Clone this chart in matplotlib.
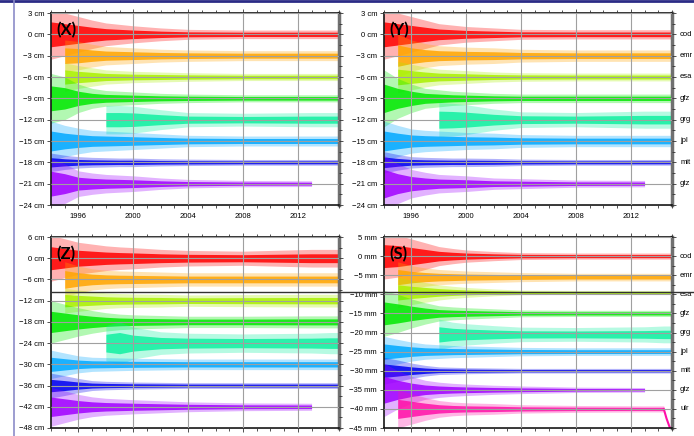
import numpy as np
import matplotlib
matplotlib.use('Agg')
import matplotlib.pyplot as plt
from matplotlib.lines import Line2D
from matplotlib.ticker import MultipleLocator, FuncFormatter

plt.rcParams['font.family'] = ['Liberation Sans', 'DejaVu Sans']

n = np.nan
knots = [1994, 1995, 1996, 1997, 1998, 1999, 2000, 2002, 2004, 2008, 2013, 2014.4, 2015]

centres = ['cod', 'emr', 'esa', 'gfz', 'grg', 'jpl', 'mit', 'gtz']
centres_s = centres + ['ulr']
colours = ['#ff0000', '#ffa500', '#aaf000', '#00e800', '#10f0a0',
           '#00a8ff', '#0000f0', '#a000ff', '#ff10a8']

# (X) cm, offsets and outer half-width of each band
x_offsets = [0, -3, -6, -9, -12, -15, -18, -21]
x_width = [
    [3.5, 3.0, 2.5, 2.0, 1.6, 1.4, 1.2, 0.9, 0.7, 0.6, 0.6, 0.6, 0.6],
    [n, 2.2, 2.0, 1.6, 1.3, 1.2, 1.1, 0.9, 0.8, 0.7, 0.7, 0.7, 0.7],
    [n, 2.0, 1.6, 1.3, 1.0, 0.9, 0.8, 0.7, 0.6, 0.5, 0.5, 0.5, 0.5],
    [3.5, 3.0, 2.0, 1.4, 1.1, 1.0, 0.9, 0.7, 0.6, 0.5, 0.5, 0.5, 0.5],
    [n, n, n, n, 2.0, 2.0, 1.9, 1.4, 1.0, 0.9, 1.0, 1.0, 1.0],
    [2.8, 2.2, 1.8, 1.5, 1.4, 1.3, 1.2, 1.0, 0.8, 0.7, 0.7, 0.7, 0.7],
    [1.3, 1.0, 0.8, 0.7, 0.65, 0.6, 0.6, 0.5, 0.45, 0.4, 0.4, 0.4, 0.4],
    [3.5, 2.8, 1.8, 1.5, 1.3, 1.2, 1.1, 0.8, 0.6, 0.45, 0.4, n, n],
]

# (Y) cm
y_offsets = [0, -3, -6, -9, -12, -15, -18, -21]
y_width = [
    [3.5, 3.0, 2.5, 2.0, 1.5, 1.3, 1.1, 0.9, 0.7, 0.65, 0.65, 0.65, 0.65],
    [n, 3.0, 2.2, 1.7, 1.4, 1.3, 1.2, 1.1, 0.9, 0.8, 0.8, 0.8, 0.8],
    [n, 2.2, 1.8, 1.4, 1.1, 1.0, 0.9, 0.7, 0.6, 0.55, 0.55, 0.55, 0.55],
    [4.0, 2.8, 2.0, 1.4, 1.2, 1.0, 0.9, 0.7, 0.6, 0.6, 0.6, 0.6, 0.6],
    [n, n, n, n, 2.4, 2.3, 2.1, 1.5, 1.1, 1.0, 1.2, 1.2, 1.2],
    [2.8, 2.2, 1.7, 1.5, 1.4, 1.3, 1.2, 1.1, 0.9, 0.8, 0.8, 0.8, 0.8],
    [1.5, 1.1, 0.8, 0.7, 0.65, 0.6, 0.6, 0.55, 0.45, 0.4, 0.4, 0.4, 0.4],
    [4.0, 2.8, 2.0, 1.6, 1.3, 1.2, 1.1, 0.8, 0.7, 0.5, 0.45, n, n],
]

# (Z) cm
z_offsets = [0, -6, -12, -18, -24, -30, -36, -42]
z_width = [
    [6.5, 5.5, 4.5, 4.0, 3.5, 3.2, 3.0, 2.5, 2.2, 2.0, 2.5, 2.5, 2.5],
    [n, 5.0, 3.8, 3.0, 2.6, 2.4, 2.3, 2.1, 1.9, 1.9, 1.9, 1.9, 1.9],
    [n, 3.5, 3.0, 2.6, 2.2, 2.0, 1.9, 1.8, 1.6, 1.7, 1.8, 1.8, 1.8],
    [6.0, 5.0, 4.0, 3.2, 2.6, 2.2, 2.0, 1.8, 1.6, 1.6, 1.7, 1.7, 1.7],
    [n, n, n, n, 5.0, 6.0, 4.5, 3.2, 2.8, 2.6, 2.8, 3.0, 3.0],
    [4.0, 3.2, 2.4, 2.0, 1.9, 1.8, 1.7, 1.6, 1.5, 1.5, 1.5, 1.5, 1.5],
    [3.5, 2.8, 2.0, 1.4, 1.2, 1.1, 1.0, 0.9, 0.8, 0.8, 0.8, 0.8, 0.8],
    [5.5, 4.5, 3.5, 2.8, 2.4, 2.2, 2.0, 1.7, 1.4, 1.1, 1.0, n, n],
]

# (S) mm
s_offsets = [0, -5.5, -9.5, -15, -20.5, -25, -30, -35, -40]
s_width = [
    [6.0, 5.5, 4.5, 3.5, 2.5, 2.0, 1.6, 1.2, 0.9, 0.8, 0.8, 0.8, 0.8],
    [n, 4.0, 3.0, 2.4, 2.0, 1.8, 1.6, 1.4, 1.2, 1.0, 1.0, 1.0, 1.0],
    [n, 4.0, 3.2, 2.6, 2.0, 1.6, 1.3, 0.9, 0.6, 0.5, 0.5, 0.5, 0.5],
    [6.0, 5.0, 3.8, 2.8, 2.0, 1.7, 1.5, 1.2, 0.9, 0.8, 0.8, 0.8, 0.8],
    [n, n, n, n, 4.0, 3.2, 2.8, 2.3, 1.9, 1.8, 2.0, 2.2, 2.2],
    [4.0, 3.2, 2.5, 2.0, 1.8, 1.6, 1.5, 1.3, 1.1, 1.0, 1.0, 1.0, 1.0],
    [3.5, 2.8, 2.0, 1.4, 1.0, 0.9, 0.8, 0.7, 0.6, 0.6, 0.6, 0.6, 0.6],
    [7.0, 5.0, 3.5, 2.5, 2.0, 1.7, 1.5, 1.2, 1.0, 0.7, 0.6, n, n],
    [n, 5.0, 4.0, 3.0, 2.2, 1.8, 1.6, 1.4, 1.1, 0.9, 0.8, 0.8, n],
]
ulr_tail_t = [2014.4, 2014.6, 2014.8, 2015.0]
ulr_tail_v = [-40, -42.5, -44.5, -46]


def fmt(unit):
    def f(v, pos):
        s = '%d %s' % (abs(round(v)), unit)
        return ('\u2212' + s) if v < -0.01 else s
    return FuncFormatter(f)


def panel(rect, offsets, widths, ylim, step, unit, tag, names=None):
    ax = fig.add_axes(rect)
    t = np.array(knots)
    for off, w, c in zip(offsets, widths, colours):
        w = np.array(w, float)
        m = ~np.isnan(w)
        ax.fill_between(t[m], off - w[m], off + w[m], color=c, alpha=0.3, lw=0)
        ax.fill_between(t[m], off - 0.5 * w[m], off + 0.5 * w[m], color=c, alpha=0.85, lw=0)
    ax.set_xlim(1994, 2015)
    ax.set_ylim(*ylim)
    ax.xaxis.set_major_locator(MultipleLocator(4))
    ax.xaxis.set_minor_locator(MultipleLocator(1))
    ax.yaxis.set_major_locator(MultipleLocator(step))
    ax.yaxis.set_minor_locator(MultipleLocator(step / 2))
    ax.yaxis.set_major_formatter(fmt(unit))
    ax.set_axisbelow(False)
    ax.grid(True, which='major', color='#a0a0a0', lw=0.8)
    ax.tick_params(axis='x', which='both', top=True, direction='out', labelsize=5.5,
                   length=3, width=0.6, pad=2.5, color='#333333')
    ax.tick_params(axis='x', which='minor', length=2)
    ax.tick_params(axis='y', which='major', left=True, right=True, direction='out',
                   labelsize=5.5, length=3, width=0.6, pad=2, color='#333333')
    ax.tick_params(axis='y', which='minor', left=False, right=True, length=2.5,
                   width=0.6, color='#333333')
    for s in ['left', 'top', 'bottom']:
        ax.spines[s].set_linewidth(1.1)
        ax.spines[s].set_color('black')
    ax.spines['right'].set_linewidth(2.5)
    ax.spines['right'].set_color('#707070')
    ax.text(0.02, 0.91, tag, transform=ax.transAxes, fontsize=12, fontweight='bold',
            family=['Lato', 'DejaVu Sans'], va='center', ha='left')
    if names:
        tr = ax.get_yaxis_transform()
        for nm, off in zip(names, offsets):
            ax.text(1.028, step * round(off / step), nm, transform=tr, fontsize=5.5,
                    va='center', ha='left', clip_on=False)
    return ax


fig = plt.figure(figsize=(6.94, 4.36), dpi=100)
W, H = 694, 436
top_rect = lambda x0: [x0 / W, 1 - 205 / H, 288 / W, 192 / H]
bot_rect = lambda x0: [x0 / W, 1 - 428 / H, 288 / W, 191 / H]

panel(top_rect(51), x_offsets, x_width, (-24, 3), 3, 'cm', '(X)')
panel(top_rect(384), y_offsets, y_width, (-24, 3), 3, 'cm', '(Y)', centres)
panel(bot_rect(51), z_offsets, z_width, (-48, 6), 6, 'cm', '(Z)')
ax_s = panel(bot_rect(384), s_offsets, s_width, (-45, 5), 5, 'mm', '(S)', centres_s)
ax_s.plot(ulr_tail_t, ulr_tail_v, color=colours[8], lw=1.5)

# slide frame
fig.add_artist(Line2D([0, 1], [1 - 1 / H, 1 - 1 / H], transform=fig.transFigure,
                      color='#2b2b86', lw=2))
fig.add_artist(Line2D([14 / W, 14 / W], [0, 1], transform=fig.transFigure,
                      color='#8c8cc8', lw=1.2))
fig.add_artist(Line2D([51 / W, 1], [1 - 292 / H, 1 - 292 / H], transform=fig.transFigure,
                      color='#333333', lw=1))

fig.savefig('out.png', dpi=100)
